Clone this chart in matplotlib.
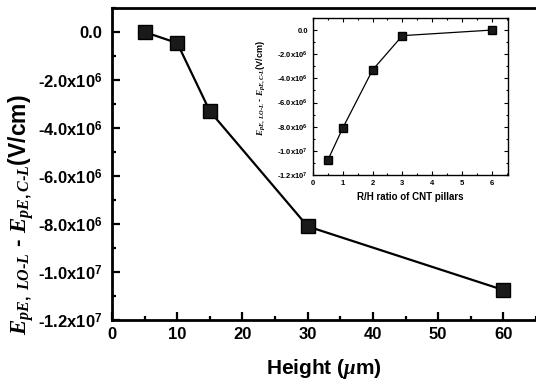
import matplotlib
matplotlib.use('Agg')
import matplotlib.pyplot as plt
from matplotlib.ticker import MultipleLocator, FuncFormatter

plt.rcParams['font.family'] = 'Liberation Sans'
plt.rcParams['font.weight'] = 'bold'
plt.rcParams['mathtext.fontset'] = 'custom'
plt.rcParams['mathtext.rm'] = 'Liberation Sans:bold'
plt.rcParams['mathtext.bf'] = 'Liberation Sans:bold'
plt.rcParams['mathtext.it'] = 'Liberation Serif:italic'

height = [5, 10, 15, 30, 60]
dE = [0.0, -4.6e5, -3.3e6, -8.1e6, -1.075e7]

ratio = [0.5, 1, 2, 3, 6]
dE_inset = [-1.075e7, -8.1e6, -3.3e6, -4.6e5, 0.0]

ylab = '$E_{pE,\\ LO\\text{-}L}$ - $E_{pE,C\\text{-}L}$(V/cm)'


def sci(v, pos):
    if v == 0:
        return '0.0'
    e = 0
    m = abs(v)
    while m >= 10:
        m /= 10
        e += 1
    sign = '-' if v < 0 else ''
    return '%s%.1fx10$^{%d}$' % (sign, m, e)


fig = plt.figure(figsize=(5.36, 3.83), dpi=100)

ax = fig.add_axes([0.209, 0.1645, 0.791, 0.8145])
ax.plot(height, dE, color='black', lw=1.6, marker='s', ms=10.5,
        mfc='#1a1a1a', mec='black')
ax.set_xlim(0, 65)
ax.set_ylim(-1.2e7, 1.0e6)
ax.xaxis.set_major_locator(MultipleLocator(10))
ax.xaxis.set_minor_locator(MultipleLocator(5))
ax.yaxis.set_major_locator(MultipleLocator(2e6))
ax.yaxis.set_minor_locator(MultipleLocator(1e6))
ax.yaxis.set_major_formatter(FuncFormatter(sci))
ax.tick_params(which='both', direction='in', width=1.6, labelsize=12)
ax.tick_params(which='major', length=6)
ax.tick_params(which='minor', length=3)
ax.tick_params(axis='y', pad=7)
ax.tick_params(axis='x', pad=5)
for s in ['left', 'bottom', 'top']:
    ax.spines[s].set_linewidth(2)
ax.spines['right'].set_visible(False)
ax.set_xlabel('Height ($\\mu$m)', fontsize=15, fontweight='bold', labelpad=11)
fig.text(0.040, 0.439, ylab, fontsize=16.5, fontweight='bold',
         rotation=90, ha='center', va='center')

ins = fig.add_axes([0.584, 0.543, 0.364, 0.41])
ins.plot(ratio, dE_inset, color='black', lw=0.9, marker='s', ms=5.5,
         mfc='#1a1a1a', mec='black')
ins.set_xlim(0, 6.55)
ins.set_ylim(-1.2e7, 1.0e6)
ins.xaxis.set_major_locator(MultipleLocator(1))
ins.xaxis.set_minor_locator(MultipleLocator(0.5))
ins.yaxis.set_major_locator(MultipleLocator(2e6))
ins.yaxis.set_minor_locator(MultipleLocator(1e6))
ins.yaxis.set_major_formatter(FuncFormatter(sci))
ins.tick_params(which='both', direction='in', width=0.8, labelsize=5.5,
                top=True, right=True)
ins.tick_params(which='major', length=3)
ins.tick_params(which='minor', length=1.5)
for s in ins.spines.values():
    s.set_linewidth(1)
ins.set_xlabel('R/H ratio of CNT pillars', fontsize=7, fontweight='bold',
               labelpad=4)
fig.text(0.487, 0.770, ylab, fontsize=6.5, fontweight='bold',
         rotation=90, ha='center', va='center')

fig.savefig('out.png', dpi=100)
